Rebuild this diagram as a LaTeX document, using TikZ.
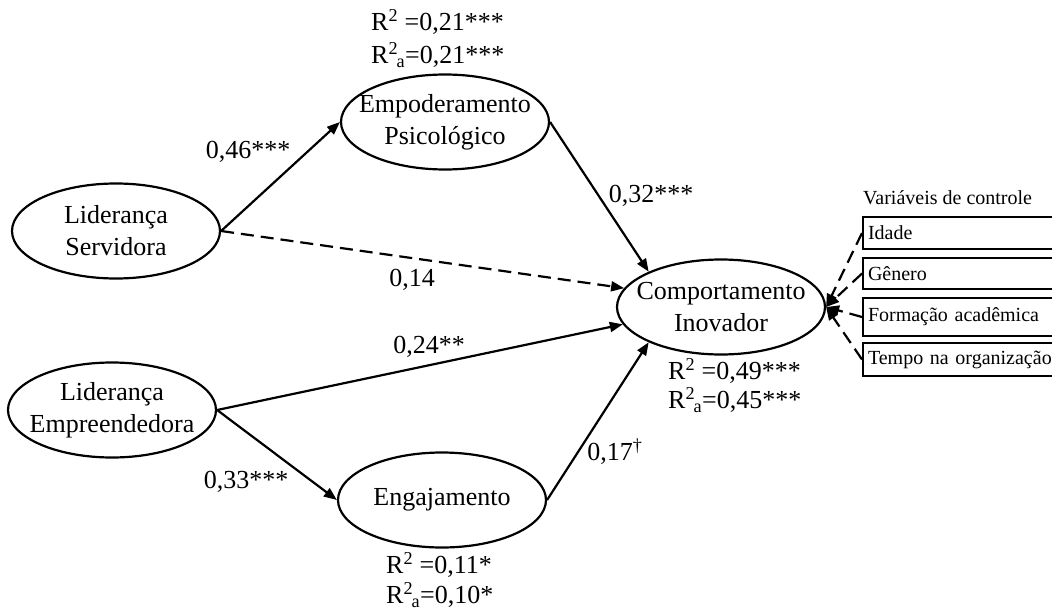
\documentclass[tikz,border=0pt]{standalone}
\usepackage{fontspec}
\setmainfont{Liberation Serif}
\usetikzlibrary{arrows.meta,shapes.geometric}
\newcommand{\zw}[1]{\makebox[0pt]{#1}}
\newcommand{\rsqa}{R\textsuperscript{2}\kern-1.5pt\textsubscript{a}}
\begin{document}
\begin{tikzpicture}[x=1pt,y=-1pt,
  latent/.style={draw, ellipse, line width=2.2pt, minimum width=208pt, minimum height=95pt, inner sep=0pt, align=center, font=\fontsize{26}{32}\selectfont},
  path/.style={line width=2.2pt, -{Triangle[length=13pt,width=10pt]}},
  nspath/.style={path, dash pattern=on 13pt off 7pt},
  lbl/.style={font=\fontsize{26}{32}\selectfont, inner sep=0pt},
  ctrl/.style={draw, line width=2pt, anchor=north west, minimum width=200pt, text width=190pt, inner xsep=5pt, inner ysep=0pt, align=left, font=\fontsize{20}{24}\selectfont}]
\useasboundingbox (0,0) rectangle (1052,610);

% latent variables
\node[latent] (LS) at (116,231) {\zw{Liderança}\\\zw{Servidora}};
\node[latent] (LE) at (112,410) {\zw{Liderança}\\\zw{Empreendedora}};
\node[latent] (EP) at (445,122) {\zw{Empoderamento}\\\zw{Psicológico}};
\node[latent] (EN) at (442,500) {\zw{Engajamento}};
\node[latent] (CI) at (721,307) {\zw{Comportamento}\\\zw{Inovador}};

% paths
\draw[path] (LS.east) -- (EP.west);
\draw[nspath] (LS.east) -- (CI.169);
\draw[path] (LE.east) -- (CI.190);
\draw[path] (LE.east) -- (EN.west);
\draw[path] (EP.east) -- (CI.154);
\draw[path] (EN.east) -- (CI.206);

% path coefficients
\node[lbl] (l46) at (248,152) {0,46***};
\node[lbl] (l32) at (651,196) {0,32***};
\node[lbl] (l14) at (412,280) {0,14};
\node[lbl] (l24) at (429,347) {0,24**};
\node[lbl] (l33) at (246,482) {0,33***};
\node[lbl] (l17) at (615,452) {0,17\textsuperscript{†}};

% R squared
\node[lbl, anchor=west] (ep1) at (371,22) {R\textsuperscript{2} =0,21***};
\node[lbl, anchor=west] (ep2) at (371,55) {\rsqa=0,21***};
\node[lbl, anchor=west] (ci1) at (668,371) {R\textsuperscript{2} =0,49***};
\node[lbl, anchor=west] (ci2) at (668,400) {\rsqa=0,45***};
\node[lbl, anchor=west] (en1) at (386,565) {R\textsuperscript{2} =0,11*};
\node[lbl, anchor=west] (en2) at (386,595) {\rsqa=0,10*};

% control variables
\node[font=\fontsize{20}{24}\selectfont, anchor=west, inner sep=0pt] (cvt) at (863,198) {Variáveis de controle};
\node[ctrl, minimum height=32pt] (c1) at (862,216) {Idade};
\node[ctrl, minimum height=31pt] (c2) at (862,257) {Gênero};
\node[ctrl, minimum height=38pt] (c3) at (862,297) {Formação acadêmica};
\node[ctrl, minimum height=33pt] (c4) at (862,342) {Tempo na organização};
\draw[nspath] (c1.west) -- (CI.east);
\draw[nspath] (c2.west) -- (CI.east);
\draw[nspath] (c3.west) -- (CI.east);
\draw[nspath] (c4.west) -- (CI.east);
\end{tikzpicture}
\end{document}
